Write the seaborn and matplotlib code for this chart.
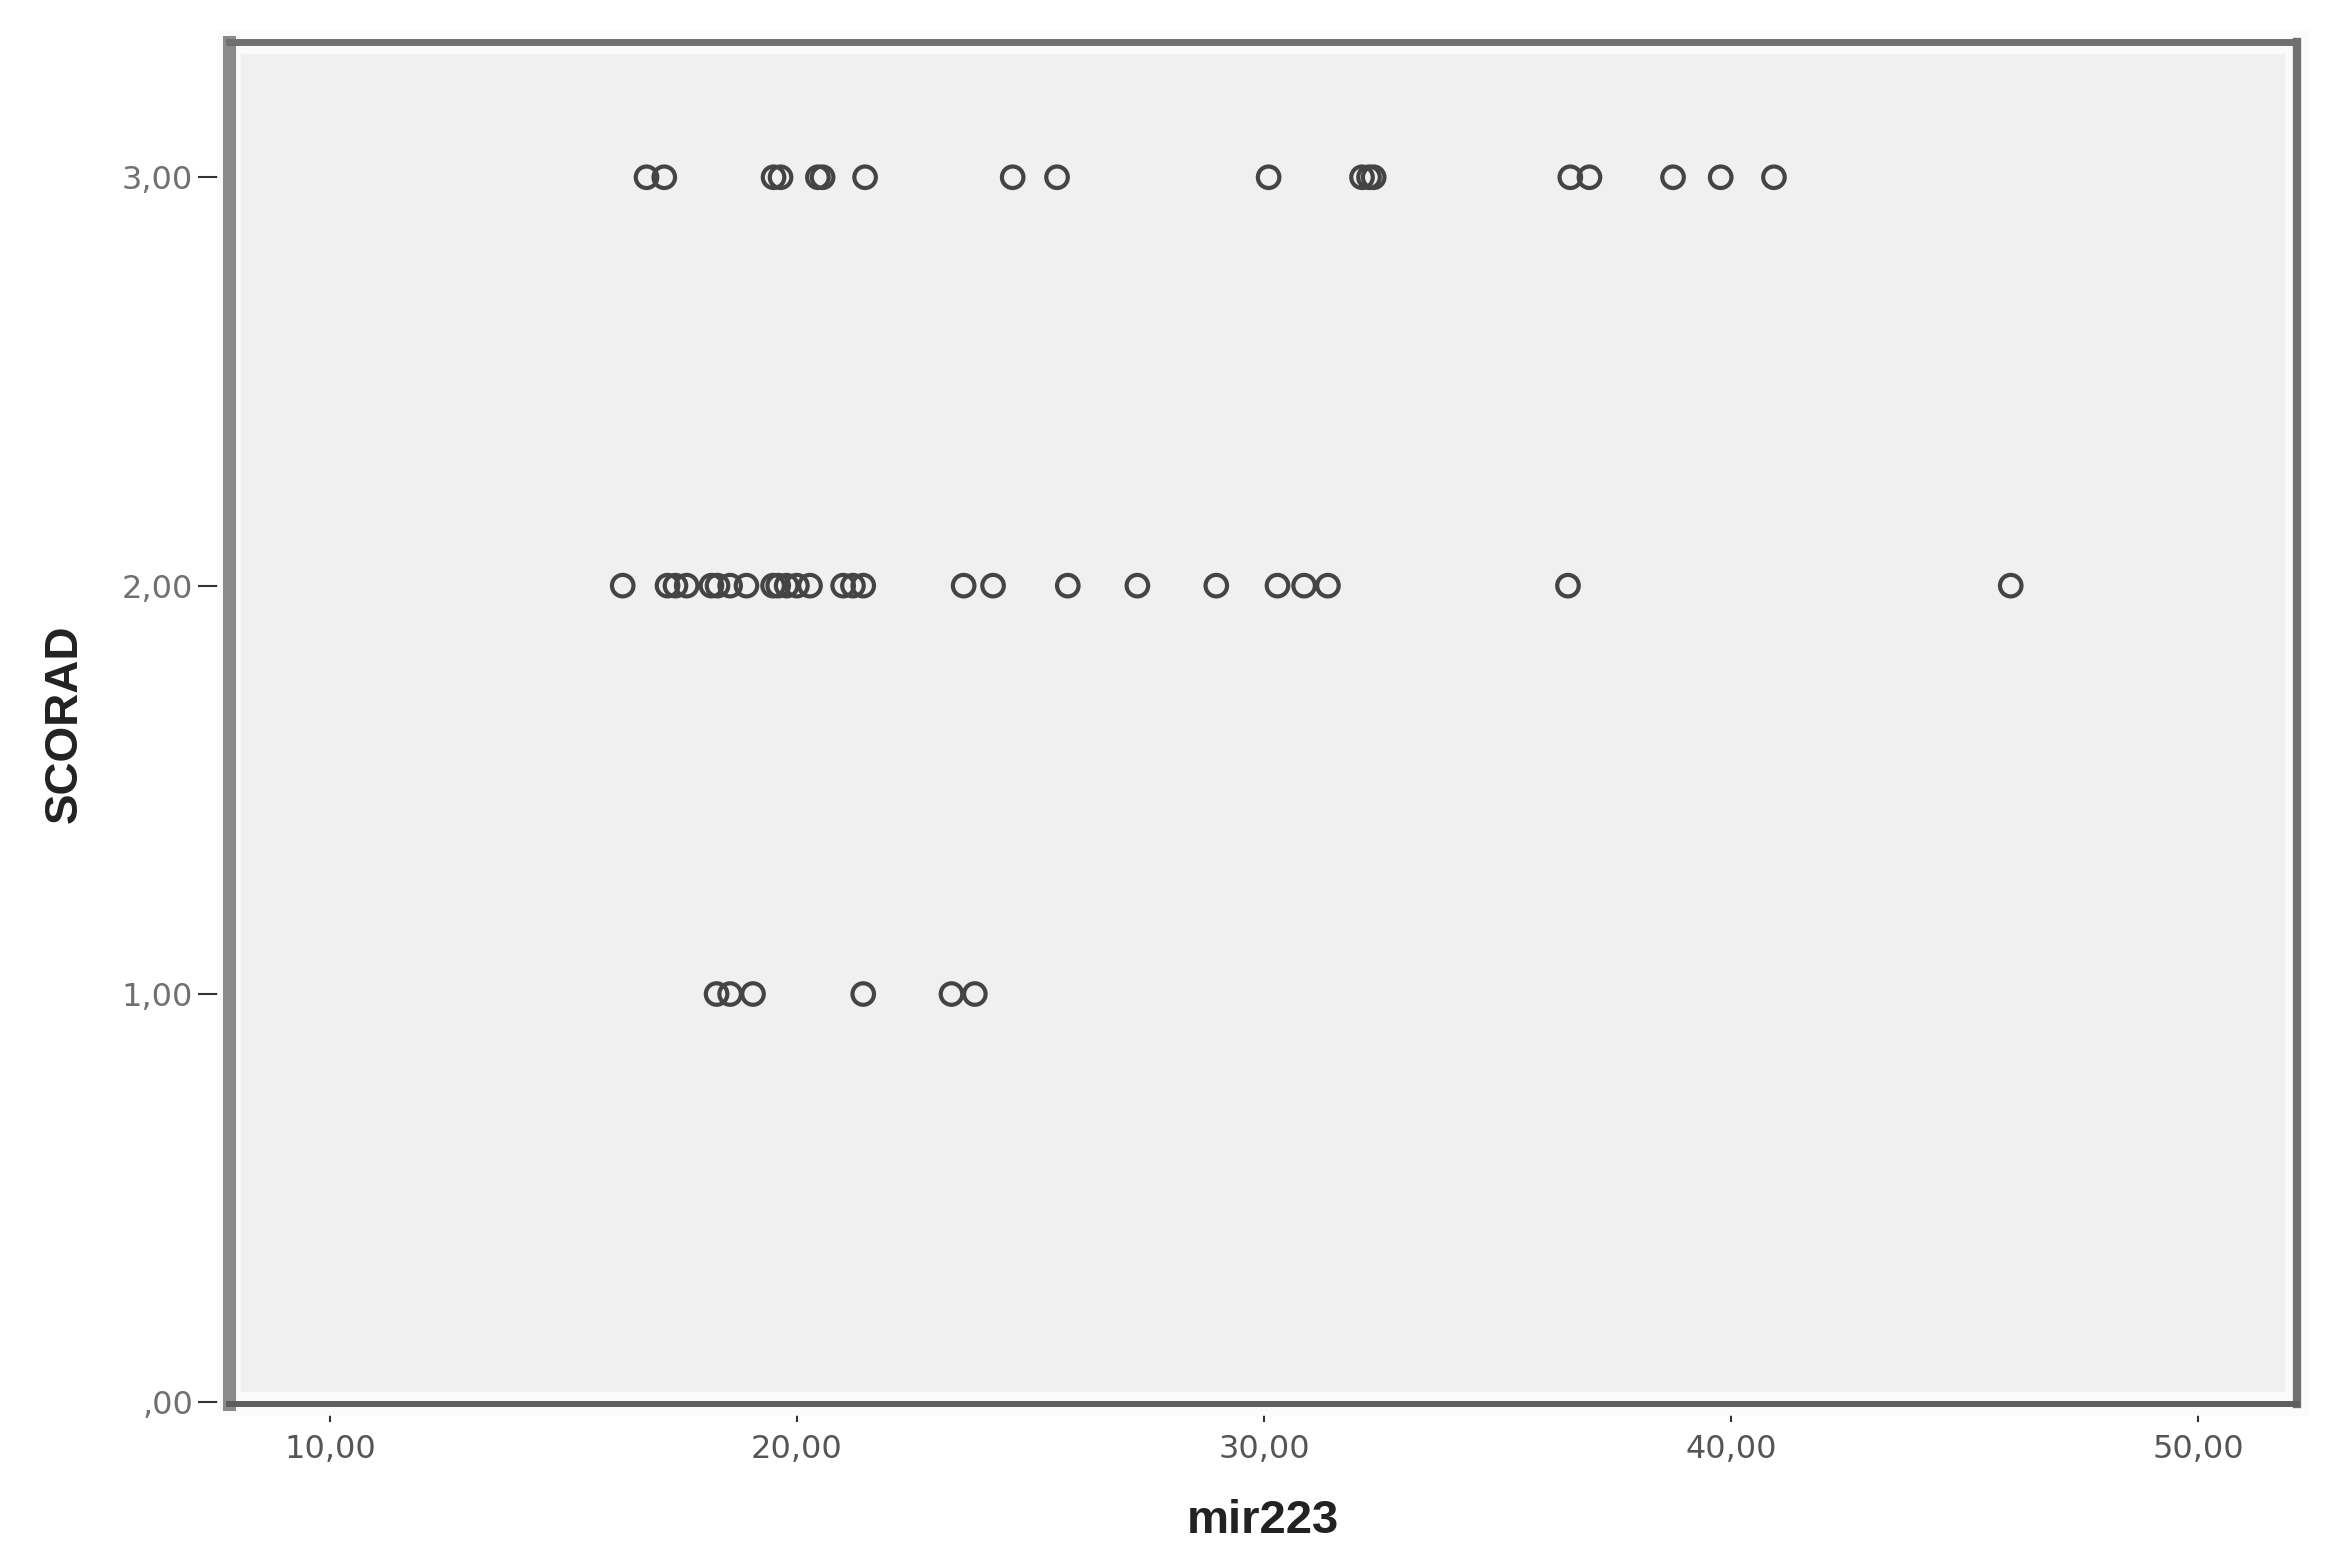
import matplotlib
matplotlib.use("Agg")
import matplotlib.pyplot as plt
from matplotlib.patches import Rectangle
import numpy as np
import pandas as pd
import seaborn as sns

# mir223 values, one list per SCORAD group
mir223_scorad3 = [16.78, 17.16, 19.50, 19.65, 20.45, 20.55, 21.46, 24.62, 25.57,
                  30.10, 32.10, 32.25, 32.35, 36.56, 36.97, 38.76, 39.78, 40.92]
mir223_scorad2 = [16.27, 17.23, 17.40, 17.64, 18.17, 18.30, 18.57, 18.92, 19.49,
                  19.60, 19.78, 20.00, 20.28, 20.99, 21.20, 21.42, 23.57, 24.20,
                  25.80, 27.29, 28.98, 30.29, 30.86, 31.37, 36.51, 45.99]
mir223_scorad1 = [18.28, 18.57, 19.06, 21.42, 23.31, 23.81]

x_ticks = [10, 20, 30, 40, 50]
x_ticklabels = ["10,00", "20,00", "30,00", "40,00", "50,00"]
y_ticks = [0, 1, 2, 3]
y_ticklabels = [",00", "1,00", "2,00", "3,00"]

df = pd.DataFrame({
    "mir223": mir223_scorad3 + mir223_scorad2 + mir223_scorad1,
    "SCORAD": [3.0] * len(mir223_scorad3) + [2.0] * len(mir223_scorad2)
              + [1.0] * len(mir223_scorad1),
})

sns.set_style("white")
plt.rcParams["font.family"] = ["DejaVu Sans"]

fig = plt.figure(figsize=(23.32, 15.68), dpi=100)
ax = fig.add_axes([0.098, 0.1043, 0.887, 0.8686])
ax.set_facecolor("#f0f0f0")

sns.scatterplot(data=df, x="mir223", y="SCORAD", ax=ax, marker="o", s=240,
                facecolor="none", edgecolor="#444444", linewidth=3.0, legend=False)

ax.set_xlim(7.83, 52.12)
ax.set_ylim(-0.005, 3.33)
ax.set_xticks(x_ticks)
ax.set_xticklabels(x_ticklabels)
ax.set_yticks(y_ticks)
ax.set_yticklabels(y_ticklabels)

# SPSS-like frame: dark border with a light inner highlight
ax.add_patch(Rectangle((0, 0), 1, 1, transform=ax.transAxes, fill=False,
                       edgecolor="#fbfbfb", lw=17, clip_on=False, zorder=1.5))
ax.spines["left"].set_color("#8a8a8a")
ax.spines["left"].set_linewidth(9.4)
ax.spines["top"].set_color("#707070")
ax.spines["top"].set_linewidth(5.0)
ax.spines["right"].set_color("#707070")
ax.spines["right"].set_linewidth(6.0)
ax.spines["bottom"].set_color("#5e5e5e")
ax.spines["bottom"].set_linewidth(4.3)

ax.tick_params(axis="y", direction="out", length=22, width=1.5, color="#333333",
               pad=3.5, labelsize=23, labelcolor="#707070", left=True)
ax.tick_params(axis="x", direction="out", length=13, width=1.5, color="#333333",
               pad=8.5, labelsize=23, labelcolor="#555555", bottom=True)

ax.set_xlabel("mir223", fontsize=34, fontweight="bold", family="Liberation Sans",
              va="center", color="#222222")
ax.xaxis.set_label_coords(0.5, -0.0855)
ax.set_ylabel("SCORAD", fontsize=33, fontweight="bold", family="Liberation Sans",
              va="center", color="#222222")
ax.yaxis.set_label_coords(-0.079, 0.5)

fig.savefig("out.png", dpi=100, facecolor="white")
